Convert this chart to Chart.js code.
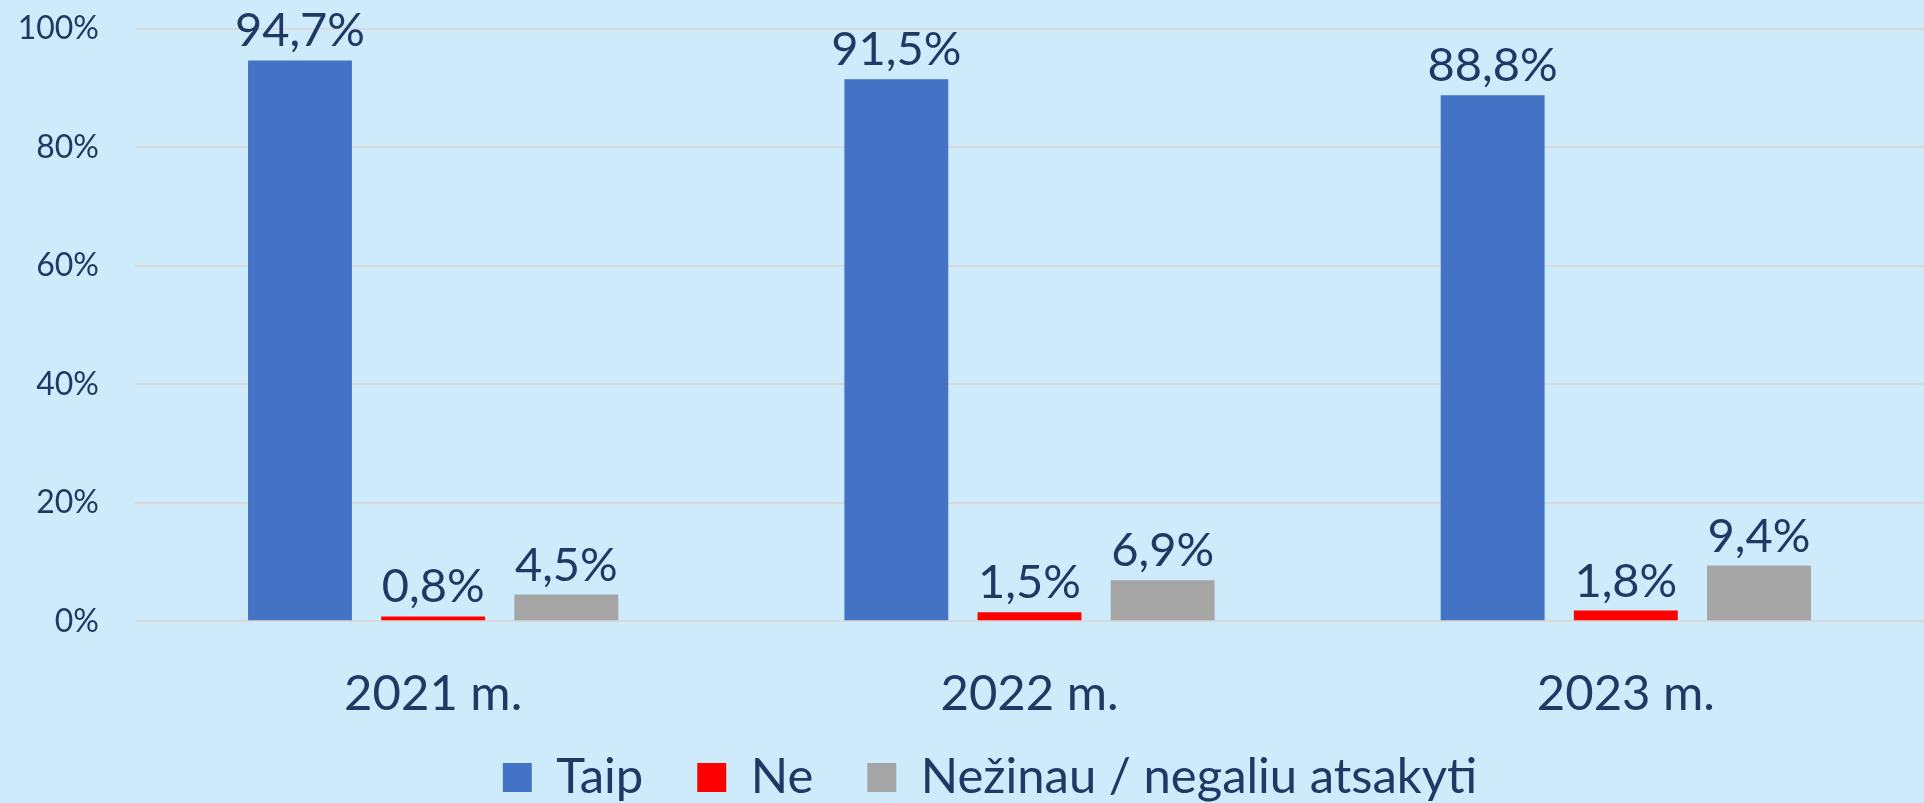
<!DOCTYPE html>
<html>
<head>
<meta charset="utf-8">
<script src="https://cdn.jsdelivr.net/npm/chart.js@4"></script>
<style>
  html, body { margin: 0; padding: 0; background: #cdebfb; }
  #wrap { width: 1924px; height: 803px; }
</style>
</head>
<body>
<div id="wrap"><canvas id="barChart" width="1924" height="803"></canvas></div>
<script>
const years = ['2021 m.', '2022 m.', '2023 m.'];
const taip = [94.7, 91.5, 88.8];
const ne = [0.8, 1.5, 1.8];
const nezinau = [4.5, 6.9, 9.4];
const yTicks = [0, 20, 40, 60, 80, 100];

const TEXT = '#203864';
const FONT = 'Lato';
const X_SQUEEZE = 61;

// value labels above each bar
const barLabels = {
  id: 'barLabels',
  afterDatasetsDraw(chart) {
    const ctx = chart.ctx;
    ctx.save();
    ctx.font = '47px ' + FONT;
    ctx.fillStyle = TEXT;
    ctx.textAlign = 'center';
    ctx.textBaseline = 'alphabetic';
    chart.data.datasets.forEach((ds, i) => {
      chart.getDatasetMeta(i).data.forEach((bar, j) => {
        const txt = ds.data[j].toFixed(1).replace('.', ',') + '%';
        ctx.fillText(txt, bar.x, bar.y - 14);
      });
    });
    ctx.restore();
  }
};

// legend sits a bit right of centre and close under the x labels
const layoutTweak = {
  id: 'layoutTweak',
  afterLayout(chart) {
    chart.legend.left += 56;
    chart.scales.x.bottom += X_SQUEEZE; // so labels are not clipped
  }
};

new Chart(document.getElementById('barChart').getContext('2d'), {
  type: 'bar',
  data: {
    labels: years,
    datasets: [
      { label: 'Taip', data: taip, backgroundColor: '#4472c4' },
      { label: 'Ne', data: ne, backgroundColor: '#ff0000' },
      { label: 'Nežinau / negaliu atsakyti', data: nezinau, backgroundColor: '#a5a5a5' }
    ]
  },
  options: {
    responsive: false,
    animation: false,
    categoryPercentage: 0.67,
    barPercentage: 0.78,
    layout: { padding: { top: 29, right: 0, bottom: -9, left: 0 } },
    scales: {
      x: {
        afterFit(scale) { scale.height -= X_SQUEEZE; },
        grid: { display: false },
        border: { display: false },
        ticks: { color: TEXT, font: { family: FONT, size: 49 }, padding: 36 }
      },
      y: {
        min: 0,
        max: 100,
        afterFit(scale) {
          scale.width = 135;
          scale.paddingTop = 0;
        },
        afterBuildTicks(scale) { scale.ticks = yTicks.map(v => ({ value: v })); },
        grid: { color: '#d9d9d9', lineWidth: 2, drawTicks: false },
        border: { display: false },
        ticks: {
          color: TEXT,
          font: { family: FONT, size: 32 },
          padding: 36,
          callback: v => v + '%'
        }
      }
    },
    plugins: {
      legend: {
        position: 'bottom',
        labels: {
          color: TEXT,
          font: { family: FONT, size: 49 },
          boxWidth: 29,
          boxHeight: 29,
          padding: 54
        }
      },
      tooltip: { enabled: false }
    }
  },
  plugins: [barLabels, layoutTweak]
});
</script>
</body>
</html>
